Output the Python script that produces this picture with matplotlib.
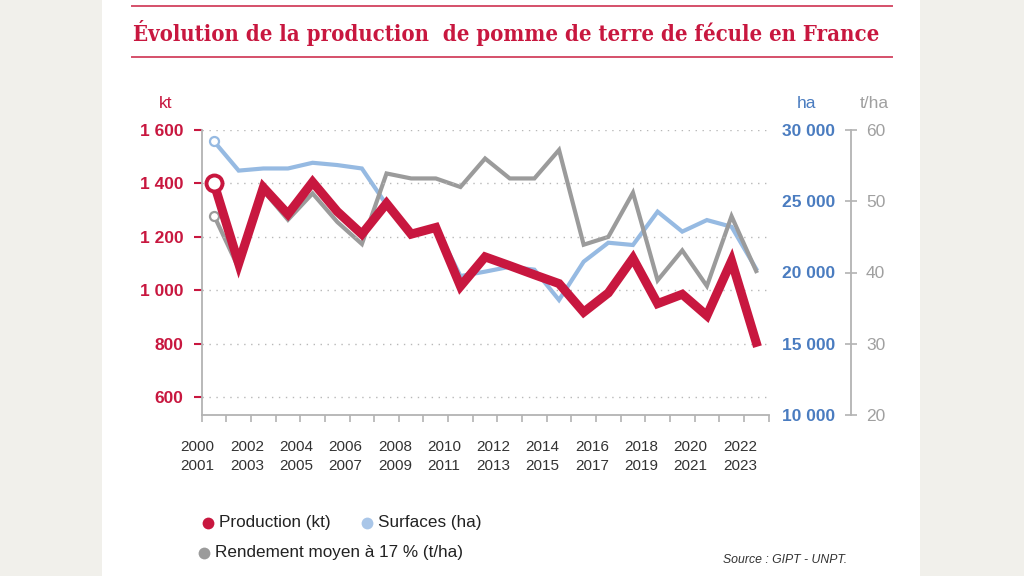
import matplotlib
matplotlib.use("Agg")
import matplotlib.pyplot as plt
from matplotlib.lines import Line2D
from matplotlib.patches import Rectangle
from matplotlib import font_manager
import matplotlib.transforms as mtransforms

# ---------------- data ----------------
x_labels = ["2000\n2001", "2002\n2003", "2004\n2005", "2006\n2007", "2008\n2009",
            "2010\n2011", "2012\n2013", "2014\n2015", "2016\n2017", "2018\n2019",
            "2020\n2021", "2022\n2023"]
production_kt = [1400, 1100, 1385, 1285, 1405, 1295, 1210, 1325, 1210, 1235, 1015,
                 1125, 1092, 1058, 1025, 918, 990, 1120, 950, 985, 905, 1110, 805]
surfaces_ha = [29200, 27150, 27300, 27300, 27700, 27540, 27300, 24750, 22800, 23200,
               19750, 20060, 20400, 20200, 18070, 20760, 22090, 21930, 24270, 22870,
               23680, 23210, 20250]
rendement_tha = [48.0, 40.6, 51.5, 47.4, 51.1, 47.1, 44.0, 53.9, 53.2, 53.2, 52.0,
                 56.0, 53.2, 53.2, 57.2, 43.9, 45.0, 51.2, 38.9, 43.1, 38.1, 47.9, 40.2]
left_ticks = [600, 800, 1000, 1200, 1400, 1600]
ha_ticks = [10000, 15000, 20000, 25000, 30000]
tha_ticks = [20, 30, 40, 50, 60]

title = "Évolution de la production  de pomme de terre de fécule en France"

# ---------------- style ----------------
RED = "#c8173f"
RED_LINE = "#d5506a"
BLUE_LINE = "#96bae2"
BLUE_TXT = "#4a7cc0"
GREY_LINE = "#9b9b9b"
GREY_TXT = "#a0a0a0"
SPINE = "#b3b3b3"
BG = "#f1f0eb"

plt.rcParams["font.family"] = ["Liberation Sans", "DejaVu Sans"]

# pick a condensed bold serif for the title if one is installed
title_family = "Liberation Serif"
title_stretch = "normal"
try:
    fp = font_manager.FontProperties(family="DejaVu Serif", weight="bold",
                                     stretch="condensed")
    path = font_manager.findfont(fp, fallback_to_default=False)
    if "Condensed" in path:
        title_family = "DejaVu Serif"
        title_stretch = "condensed"
except Exception:
    pass

W, H = 1024, 576
fig = plt.figure(figsize=(W / 100, H / 100), dpi=100)
fig.patch.set_facecolor(BG)
fig.add_artist(Rectangle((102 / W, 0), (920 - 102) / W, 1, transform=fig.transFigure,
                         facecolor="white", edgecolor="none", zorder=0))


def fx(px):
    return px / W


def fy(py):
    return 1 - py / H


def fmt(v):
    return f"{int(v):,}".replace(",", " ")


x0, x1 = 201.7, 768.5
ytop, ybot = 130, 415
ax = fig.add_axes([fx(x0), fy(ybot), (x1 - x0) / W, (ybot - ytop) / H])
ax2 = ax.twinx()
ax3 = ax.twinx()
ax2.set_zorder(1)
ax3.set_zorder(2)
ax.set_zorder(3)
for a in (ax, ax2, ax3):
    a.patch.set_visible(False)

n = len(production_kt)
xs = [i + 0.5 for i in range(n)]

# --- left axis (production)
ax.set_xlim(0, n)
ax.set_ylim(533, 1600)
ax.plot(xs, production_kt, color=RED, lw=6.5, solid_joinstyle="miter", zorder=5)
ax.plot(xs[:1], production_kt[:1], "o", ms=11.5, mfc="white", mec=RED, mew=2.8, zorder=6)
ax.set_yticks(left_ticks, labels=[fmt(v) for v in left_ticks], fontweight="bold")
ax.tick_params(axis="y", colors=RED, labelcolor=RED, labelsize=12.5, length=6,
               width=1.5, pad=7)
ax.set_xticks(list(range(0, n, 2)), labels=x_labels)
ax.set_xticks(list(range(1, n + 1, 2)), minor=True)
ax.tick_params(axis="x", which="both", colors=SPINE, length=5, width=1.2)
ax.tick_params(axis="x", which="major", labelcolor="#333333", labelsize=11, pad=13)
for lbl in ax.get_xticklabels():
    lbl.set_linespacing(1.45)
    lbl.set_transform(lbl.get_transform() +
                      mtransforms.ScaledTranslation(-4 / 100, 0, fig.dpi_scale_trans))
for t in left_ticks:
    ax.axhline(t, color="#b8b8b8", lw=1.0, ls=(0, (1, 4)), zorder=1)
for s in ("top", "right"):
    ax.spines[s].set_visible(False)
for s in ("left", "bottom"):
    ax.spines[s].set_color(SPINE)
    ax.spines[s].set_linewidth(1.3)

# --- blue axis (surfaces)
ax2.set_ylim(10000, 30000)
ax2.plot(xs, surfaces_ha, color=BLUE_LINE, lw=3.0, solid_joinstyle="miter")
ax2.plot(xs[:1], surfaces_ha[:1], "o", ms=6.5, mfc="white", mec=BLUE_LINE, mew=1.6)
ax2.set_yticks(ha_ticks, labels=[fmt(v) for v in ha_ticks], fontweight="bold")
ax2.tick_params(axis="y", length=0, labelcolor=BLUE_TXT, labelsize=12.5, pad=47.9)
for lbl in ax2.get_yticklabels():
    lbl.set_horizontalalignment("right")
for s in ax2.spines.values():
    s.set_visible(False)

# --- grey axis (rendement)
ax3.set_ylim(20, 60)
ax3.plot(xs, rendement_tha, color=GREY_LINE, lw=3.0, solid_joinstyle="miter")
ax3.plot(xs[:1], rendement_tha[:1], "o", ms=6.5, mfc="white", mec=GREY_LINE, mew=1.6)
ax3.set_yticks(tha_ticks, labels=[str(v) for v in tha_ticks], fontweight="bold")
for s in ("top", "left", "bottom"):
    ax3.spines[s].set_visible(False)
ax3.spines["right"].set_position(("axes", (851 - x0) / (x1 - x0)))
ax3.spines["right"].set_color(SPINE)
ax3.spines["right"].set_linewidth(1.3)
ax3.tick_params(axis="y", direction="inout", length=8.6, width=1.2, colors=SPINE,
                labelcolor=GREY_TXT, labelsize=12.5, pad=6.5)

# units
fig.text(fx(166), fy(104), "kt", color=RED, fontsize=12.5, ha="center", va="center")
fig.text(fx(807), fy(104), "ha", color=BLUE_TXT, fontsize=12.5, ha="center", va="center")
fig.text(fx(874), fy(104), "t/ha", color=GREY_TXT, fontsize=12.5, ha="center", va="center")

# title + rules
fig.add_artist(Line2D([fx(132), fx(892)], [fy(6), fy(6)], color=RED_LINE, lw=1.4))
fig.add_artist(Line2D([fx(132), fx(892)], [fy(57), fy(57)], color=RED_LINE, lw=1.4))
tt = fig.text(fx(133), fy(33), title, color=RED, fontfamily=title_family,
              fontstretch=title_stretch, fontweight="bold", fontsize=17,
              ha="left", va="center")
r = fig.canvas.get_renderer()
w = tt.get_window_extent(r).width
tt.set_fontsize(17 * 747 / w)

# legend
leg = [(208, 523, RED, "Production (kt)"), (367, 523, "#a9c6e8", "Surfaces (ha)"),
       (204, 553, GREY_LINE, "Rendement moyen à 17 % (t/ha)")]
for px, py, c, txt in leg:
    fig.add_artist(Line2D([fx(px)], [fy(py)], marker="o", ms=8.5, color=c, mec="none"))
    fig.text(fx(px + 11), fy(py), txt, color="#222222", fontsize=12.3, va="center")

fig.text(fx(847), fy(560), "Source : GIPT - UNPT.", ha="right", va="center",
         style="italic", fontsize=8.8, color="#333333")

fig.savefig("out.png", dpi=100, facecolor=fig.get_facecolor())
